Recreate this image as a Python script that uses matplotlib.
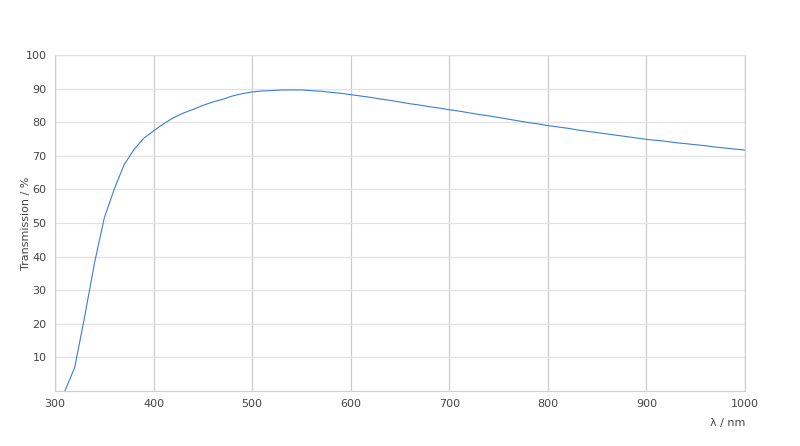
import matplotlib
matplotlib.use('Agg')
import matplotlib.pyplot as plt

wavelength = list(range(310, 1001, 10))
transmission = [
  0, 7, 22, 38, 51.5, 60, 67.3, 71.8, 75.2, 77.4,
  79.5, 81.3, 82.7, 83.8, 85.0, 86, 86.8, 87.8, 88.5, 89,
  89.3, 89.4, 89.6, 89.6, 89.6, 89.4, 89.2, 88.9, 88.6, 88.2,
  87.8, 87.4, 86.9, 86.5, 86.0, 85.5, 85.1, 84.6, 84.2, 83.7,
  83.3, 82.8, 82.3, 81.9, 81.4, 80.9, 80.4, 79.9, 79.5, 79.0,
  78.6, 78.2, 77.7, 77.3, 76.9, 76.5, 76.1, 75.7, 75.3, 74.9,
  74.6, 74.3, 73.9, 73.6, 73.3, 73.0, 72.6, 72.3, 72.0, 71.7,
]
x_ticks = list(range(300, 1001, 100))
y_ticks = list(range(10, 101, 10))

fig = plt.figure(figsize=(8, 4.46), dpi=100)
ax = fig.add_axes((55 / 800, 1 - 391 / 446, 690 / 800, 336 / 446))

ax.plot(wavelength, transmission, color='#3a7dd8', linewidth=0.8)

ax.set_xlim(300, 1000)
ax.set_ylim(0, 100)
ax.set_xticks(x_ticks)
ax.set_yticks(y_ticks)

# vertical grid a bit darker than horizontal
ax.grid(axis='x', color='#cccccc', linewidth=0.9)
ax.grid(axis='y', color='#e2e2e2', linewidth=0.9)
ax.set_axisbelow(True)

for name, sp in ax.spines.items():
  sp.set_color('#d0d0d0')
  sp.set_linewidth(0.9)
ax.spines['top'].set_color('#e2e2e2')

ax.tick_params(length=0, labelsize=8, labelcolor='#444444', pad=6)

ax.set_xlabel('λ / nm', fontsize=8, color='#444444', loc='right', labelpad=6)
ax.set_ylabel('Transmission / %', fontsize=8, color='#444444')
ax.yaxis.set_label_coords(-24 / 690, 0.5)

fig.savefig('out.png', dpi=100)
